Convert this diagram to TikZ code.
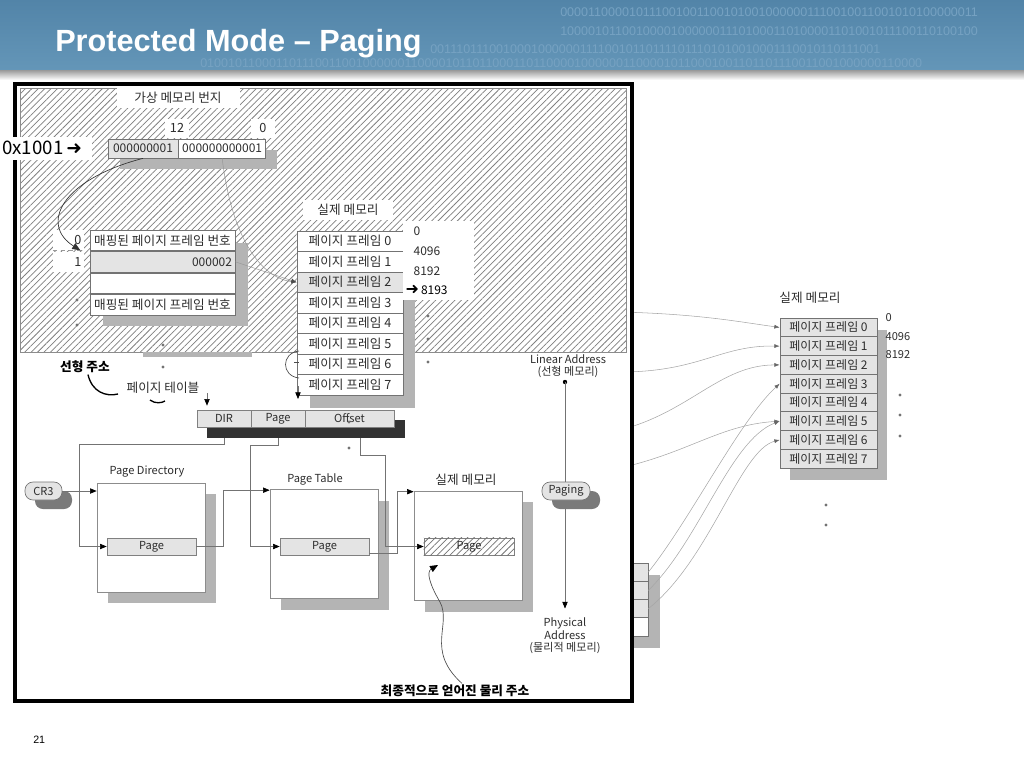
\documentclass[tikz,border=0pt]{standalone}
\usepackage{fontspec}
\setmainfont{Liberation Sans}
\newfontfamily\krfont{Noto Sans CJK KR}
\newfontfamily\symfont{DejaVu Sans}
\usetikzlibrary{positioning, arrows.meta, patterns.meta, calc}

\definecolor{hdrtop}{RGB}{82,132,168}
\definecolor{hdrbot}{RGB}{100,150,184}
\definecolor{binblue}{RGB}{118,162,194}
\definecolor{cellgray}{RGB}{228,228,228}
\definecolor{shadegray}{RGB}{180,180,180}
\definecolor{darkshade}{RGB}{50,50,50}
\definecolor{pillshade}{RGB}{122,122,122}
\definecolor{txtgray}{RGB}{45,45,45}

\newdimen\pxu \pxu=0.75pt
\newcommand{\kfont}{\krfont\fontsize{9.5}{11.5}\selectfont}
\newcommand{\lfont}{\krfont\fontsize{8.3}{10}\selectfont}

\begin{document}
\begin{tikzpicture}[x=0.75pt, y=-0.75pt,
    % boxes
    cellbox/.style={draw=black!55, line width=0.5pt, fill=white, inner sep=0pt,
      minimum width=106\pxu, minimum height=20.5\pxu, font=\kfont, text=txtgray},
    labelbox/.style={fill=white, inner sep=0pt, font=\kfont, text=txtgray},
    plaintext/.style={inner sep=1pt, font=\lfont, text=txtgray},
    bigbox/.style={draw=black!45, line width=0.5pt, fill=white, inner sep=0pt,
      minimum width=108\pxu, minimum height=109\pxu},
    pagecell/.style={draw=black!50, line width=0.5pt, fill=cellgray, inner sep=0pt,
      minimum width=89\pxu, minimum height=17\pxu, font=\lfont, text=txtgray},
    barcell/.style={pagecell, minimum height=17\pxu},
    pill/.style={draw=black!55, line width=0.5pt, fill=cellgray, rounded corners=8\pxu,
      inner sep=0pt, minimum height=18\pxu, font=\lfont, text=txtgray},
    shadowfill/.style={fill=shadegray},
    hatch/.style={pattern={Lines[angle=45,distance=3.4pt,line width=0.55pt]}, pattern color=black!50},
    % lines
    conn/.style={draw=black!55, line width=0.5pt, -{Triangle[length=5pt,width=4pt,color=black]}},
    wire/.style={draw=black!35, line width=0.4pt, -{Latex[length=4pt,width=3pt,color=black!60]}},
    stroke/.style={draw=black, line width=1pt},
    dotfill/.style={fill=black!55},
    bintext/.style={anchor=west, inner sep=0pt, text=binblue, font=\fontsize{9.4}{10}\selectfont}
  ]
  \useasboundingbox (0,0) rectangle (1024,768);

  % --- header ---
  \shade[top color=hdrtop, bottom color=hdrbot] (0,0) rectangle (1024,70);
  \shade[top color=black!40, bottom color=white] (0,70) rectangle (1024,80);
  \node[bintext] (bin1) at (560,12) {0000110000101110010011001010010000001110010011001010100000011};
  \node[bintext] (bin2) at (560,31) {1000010110010000100000011101000110100001101001011100110100100};
  \node[bintext] (bin3) at (430,49) {0011101110010001000000111100101101111011101010010001110010110111001};
  \node[bintext] (bin4) at (200,63) {0100101100011011100110010000001100001011011000110110000100000011000010110001001101101110011001000000110000};
  \node[anchor=base west, inner sep=0pt, text=white, font=\bfseries\fontsize{23}{26}\selectfont] (title) at (55,51) {Protected Mode – Paging};

  % --- right side (partly behind the frame) ---
  \fill[shadowfill] (612,575) rectangle (660,648);
  \foreach \i/\c in {0/cellgray,1/cellgray,2/cellgray,3/white}
    \node[cellbox, fill=\c, minimum width=48\pxu, minimum height=18.25\pxu] (st\i) at (624,{572.1+18.25*\i}) {};

  \node[labelbox] (rmlabel) at (810,298) {실제 메모리};
  \fill[shadowfill] (790,330) rectangle (887,480);
  \foreach \i in {0,...,7}
    \node[cellbox, fill=cellgray, minimum width=97\pxu, minimum height=18.75\pxu,
      font=\krfont\fontsize{9}{11}\selectfont] (rf\i) at (828.5,{327.4+18.75*\i}) {페이지 프레임 \i};
  \node[plaintext, anchor=west] (ra0) at (884,318) {0};
  \node[plaintext, anchor=west] (ra1) at (884,337) {4096};
  \node[plaintext, anchor=west] (ra2) at (884,355) {8192};
  \foreach \p in {(900,395),(900,415),(900,436),(826,505),(826,525)}
    \fill[dotfill] \p circle (1.6);

  \coordinate (w0) at (620,312);
  \coordinate (w1) at (620,372);
  \coordinate (w2) at (620,430);
  \coordinate (w3) at (620,468);
  \draw[wire] (w0) .. controls (700,314) and (740,322) .. (rf0.west);
  \draw[wire] (w1) .. controls (700,372) and (720,345) .. (rf1.west);
  \draw[wire] (w2) .. controls (690,412) and (720,365) .. (rf2.west);
  \draw[wire] (w3) .. controls (690,452) and (720,425) .. (rf5.west);
  \draw[wire] (st0.east) .. controls (690,520) and (740,420) .. (rf3.west);
  \draw[wire] (st1.east) .. controls (700,540) and (730,440) .. (rf5.west);
  \draw[wire] (st2.east) .. controls (710,560) and (740,450) .. (rf6.west);

  % --- frame ---
  \filldraw[fill=white, draw=black, line width=2.4pt] (15,84) rectangle (632,701);
  \fill[white] (20,88) rectangle (626,352);
  \path[hatch] (20,88) rectangle (626,352);
  \draw[black!45, line width=0.5pt] (20,88) rectangle (626,352);

  % --- virtual address ---
  \node[labelbox, minimum width=123\pxu, minimum height=20\pxu] (vlabel) at (178,98) {가상 메모리 번지};
  \node[labelbox, minimum width=24\pxu, minimum height=19\pxu] (b12) at (177,128) {12};
  \node[labelbox, minimum width=24\pxu, minimum height=19\pxu] (b0) at (263,128) {0};
  \fill[shadowfill] (120,150) rectangle (277,169);
  \node[cellbox, fill=cellgray, minimum width=70\pxu, minimum height=19\pxu,
    font=\krfont\fontsize{9}{11}\selectfont] (vpn) at (143,148.5) {000000001};
  \node[cellbox, anchor=west, minimum width=87\pxu, minimum height=19\pxu,
    font=\krfont\fontsize{9}{11}\selectfont] (voff) at (vpn.east) {000000000001};

  % --- page table ---
  \node[labelbox, minimum width=31\pxu, minimum height=20\pxu, text width=26\pxu, align=right] (i0) at (68.5,240) {0};
  \node[labelbox, minimum width=31\pxu, minimum height=20\pxu, text width=26\pxu, align=right] (i1) at (68.5,262) {1};
  \draw[black!40, dashed] (i0.south west) -- (i0.south east);
  \fill[shadowfill] (103,243) rectangle (248,326);
  \node[cellbox, minimum width=145\pxu, minimum height=20.75\pxu] (t0) at (162.5,240.4) {매핑된 페이지 프레임 번호};
  \node[cellbox, fill=cellgray, minimum width=145\pxu, minimum height=20.75\pxu,
    text width=139\pxu, align=right, font=\krfont\fontsize{9}{11}\selectfont, below=0pt of t0] (t1) {000002};
  \node[cellbox, minimum width=145\pxu, minimum height=20.75\pxu, below=0pt of t1] (t2) {};
  \node[cellbox, minimum width=145\pxu, minimum height=20.75\pxu, below=0pt of t2] (t3) {매핑된 페이지 프레임 번호};
  \fill[shadegray] (143,352) rectangle (252,357);
  \foreach \p in {(77,300),(77,325),(163,345),(163,367)}
    \fill[dotfill] \p circle (1.6);

  % --- physical memory (inner) ---
  \node[labelbox, minimum width=90\pxu, minimum height=20\pxu] (mlabel) at (348,210) {실제 메모리};
  \fill[shadowfill] (310,244) rectangle (415,408);
  \foreach \i in {0,...,7}
    \node[cellbox] (f\i) at (350,{241.25+20.5*\i}) {페이지 프레임 \i};
  \node[cellbox, fill=cellgray] at (f2) {페이지 프레임 2};
  \node[labelbox, anchor=north west, minimum width=71\pxu, minimum height=79\pxu] (addrbox) at (403,221) {};
  \node[plaintext, anchor=west, font=\krfont\fontsize{9}{11}\selectfont] (a0) at (412,231) {0};
  \node[plaintext, anchor=west, font=\krfont\fontsize{9}{11}\selectfont] (a1) at (412,251) {4096};
  \node[plaintext, anchor=west, font=\krfont\fontsize{9}{11}\selectfont] (a2) at (412,271) {8192};
  \node[plaintext, anchor=west, font=\krfont\fontsize{9}{11}\selectfont, text=black] (a3) at (404,290)
    {{\symfont\fontsize{12}{12}\selectfont ➜}\,8193};
  \foreach \p in {(428,316),(428,339),(428,362)}
    \fill[dotfill] \p circle (1.6);

  % links from the address
  \draw[black!80, line width=0.5pt, -{Triangle[length=6pt,width=5pt]}]
    (vpn.south) .. controls (60,180) and (40,225) .. ([xshift=-4\pxu]i0.south east);
  \draw[black!40, line width=0.4pt, -{Latex[length=4pt,width=3pt,color=black!70]}]
    (voff.south) .. controls (232,240) and (262,278) .. (f2.west);
  \draw[black!40, line width=0.4pt, -{Latex[length=4pt,width=3pt,color=black!70]}] (t1.east) -- (f2.west);

  % bracket and arrow left of the frames
  \coordinate (brtop) at (299,351);
  \coordinate (brbot) at (299,378);
  \draw[black!70, line width=0.5pt] (brtop) .. controls (281,353) and (281,376) .. (brbot);
  \draw[black!70, line width=0.5pt] (294,362) -- (299,362);
  \coordinate (dnfrom) at (298,386);
  \coordinate (dnto) at (298,399);
  \draw[conn] (dnfrom) -- (dnto);

  % --- labels ---
  \node[plaintext, font=\kfont\bfseries, text=black] (linlbl) at (85,367) {선형 주소};
  \node[plaintext, font=\kfont] (ptlbl) at (163,388) {페이지 테이블};
  \draw[stroke] ([xshift=3\pxu]linlbl.south) .. controls (92,392) and (106,397) .. (118,394);
  \draw[stroke] (150,400) .. controls (155,404) and (162,403) .. (165,401);

  % --- paging structures ---
  \node[plaintext] (pdtitle) at (147,472) {Page Directory};
  \fill[shadowfill] (108,494) rectangle (216,603);
  \node[bigbox] (pd) at (151,537.5) {};
  \node[pagecell] (pdpage) at (151.5,546.5) {Page};

  \node[plaintext] (pttitle) at (315,479) {Page Table};
  \fill[shadowfill] (281,501) rectangle (389,610);
  \node[bigbox] (pt) at (324,544) {};
  \node[pagecell] (ptpage) at (324.5,546.5) {Page};

  \node[plaintext, font=\kfont] (pmtitle) at (466,480) {실제 메모리};
  \fill[shadowfill] (425,502) rectangle (533,612);
  \node[bigbox] (pm) at (468,545.5) {};
  \node[pagecell, fill=white, minimum width=90\pxu] (pmpage) at (469,546.5) {};
  \path[hatch, pattern color=black!55] (pmpage.south west) rectangle (pmpage.north east);
  \node[plaintext] at (pmpage) {Page};

  \fill[pillshade, rounded corners=8\pxu] (35,491) rectangle (72,509);
  \node[pill, minimum width=37\pxu] (cr3) at (43.5,491) {CR3};

  % connectors
  \coordinate (dirbend) at (79,444);
  \coordinate (pgbend) at (250,445);
  \coordinate (offbend) at (385,455);
  \draw[conn] (cr3.east) -- (cr3.east -| pd.west);
  \draw[conn] (224,427) |- (dirbend) |- (pdpage.west);
  \draw[conn] (pdpage.east) -- ++(27,0) |- ($(pt.north west)+(0,1)$);
  \draw[conn] (278,427) |- (pgbend) |- (ptpage.west);
  \draw[conn] ($(ptpage.east)+(0,7)$) -- ++(28,0) |- ($(pm.north west)+(0,1)$);
  \draw[conn] (360,427) |- (offbend) |- (pmpage.west);

  % linear address bar
  \fill[darkshade] (207,420) rectangle (405,438);
  \node[barcell, minimum width=54\pxu] (dir) at (224,418.5) {DIR};
  \node[barcell, minimum width=54\pxu] (pg) at (278,418.5) {Page};
  \node[barcell, minimum width=89\pxu] (off) at (349.5,418.5) {Offset};
  \coordinate (dirin) at (207,393);
  \draw[conn] (dirin) -- ([xshift=-17\pxu, yshift=4\pxu]dir.north);
  \fill[dotfill] (349,422) circle (1.6);
  \fill[dotfill] (349,448) circle (1.6);

  % --- linear to physical ---
  \node[plaintext, align=center, font=\krfont\fontsize{8.3}{9.3}\selectfont] (linaddr) at (568,366) {Linear Address\\(선형 메모리)};
  \coordinate (lindot) at (565,382);
  \node[plaintext, align=center, font=\krfont\fontsize{8.3}{9.3}\selectfont] (phys) at (565,636) {Physical\\Address\\(물리적 메모리)};
  \fill[black] (lindot) circle (2.2);
  \draw[conn] (lindot) -- ($(phys.north)+(0,-8)$);
  \fill[pillshade, rounded corners=8\pxu] (552,491) rectangle (600,509);
  \node[pill, minimum width=48\pxu] (paging) at (566,491) {Paging};

  % final address note
  \node[plaintext, font=\kfont\bfseries, text=black] (fin) at (455,691) {최종적으로 얻어진 물리 주소};
  \draw[black!70, line width=0.5pt, -{Triangle[length=6pt,width=5pt,color=black]}]
    ($(fin.north)+(7,0)$) .. controls (425,650) and (452,625) .. (440,602)
    .. controls (430,585) and (426,572) .. (438,565);

  % --- 0x1001 ---
  \node[labelbox, anchor=west, minimum height=23\pxu, text width=88\pxu, inner xsep=2\pxu,
    align=left, text=black, font=\krfont\fontsize{14}{16}\selectfont] (vaddr) at (0,148)
    {0x1001\,{\symfont\fontsize{14}{14}\selectfont ➜}};

  % page number
  \node[anchor=base west, inner sep=0pt, font=\fontsize{8}{10}\selectfont] (pgnum) at (33,743) {21};
\end{tikzpicture}
\end{document}
